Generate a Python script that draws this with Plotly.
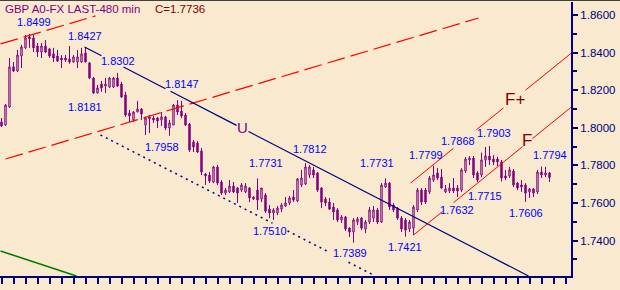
import plotly.graph_objects as go

# ---------------- data ----------------
bars = list(range(138))  # 480-min candle number

opens = [1.8031, 1.8015, 1.8111, 1.8324, 1.8302, 1.8382, 1.8425, 1.8483, 1.8478, 1.8435,
         1.8403, 1.8435, 1.8419, 1.8393, 1.8382, 1.8371, 1.8371, 1.8366, 1.8350, 1.8350,
         1.8350, 1.8398, 1.8345, 1.8265, 1.8185, 1.8233, 1.8222, 1.8217, 1.8217, 1.8265,
         1.8233, 1.8175, 1.8079, 1.8042, 1.8084, 1.8100, 1.8015, 1.8047, 1.8052, 1.8052,
         1.8042, 1.8058, 1.7999, 1.8015, 1.8121, 1.8089, 1.8068, 1.8020, 1.7925, 1.7919,
         1.7877, 1.7754, 1.7749, 1.7712, 1.7792, 1.7712, 1.7653, 1.7659, 1.7690, 1.7680,
         1.7669, 1.7659, 1.7680, 1.7621, 1.7669, 1.7621, 1.7643, 1.7568, 1.7547, 1.7547,
         1.7568, 1.7584, 1.7600, 1.7632, 1.7611, 1.7696, 1.7701, 1.7749, 1.7776, 1.7760,
         1.7680, 1.7621, 1.7605, 1.7579, 1.7563, 1.7510, 1.7526, 1.7467, 1.7446, 1.7499,
         1.7520, 1.7462, 1.7499, 1.7520, 1.7563, 1.7499, 1.7685, 1.7706, 1.7589, 1.7573,
         1.7520, 1.7510, 1.7462, 1.7467, 1.7563, 1.7669, 1.7669, 1.7659, 1.7722, 1.7760,
         1.7738, 1.7659, 1.7664, 1.7680, 1.7680, 1.7669, 1.7770, 1.7829, 1.7839, 1.7760,
         1.7749, 1.7829, 1.7850, 1.7834, 1.7834, 1.7818, 1.7744, 1.7744, 1.7770, 1.7706,
         1.7696, 1.7696, 1.7659, 1.7675, 1.7659, 1.7765, 1.7749, 1.7760]

highs = [1.8052, 1.8127, 1.8371, 1.8350, 1.8414, 1.8441, 1.8494, 1.8499, 1.8494, 1.8451,
         1.8451, 1.8467, 1.8425, 1.8425, 1.8414, 1.8387, 1.8387, 1.8435, 1.8387, 1.8414,
         1.8425, 1.8427, 1.8350, 1.8270, 1.8228, 1.8249, 1.8265, 1.8270, 1.8270, 1.8292,
         1.8244, 1.8191, 1.8095, 1.8089, 1.8143, 1.8105, 1.8058, 1.8068, 1.8063, 1.8058,
         1.8084, 1.8063, 1.8042, 1.8127, 1.8147, 1.8143, 1.8079, 1.8026, 1.7935, 1.7930,
         1.7893, 1.7760, 1.7765, 1.7797, 1.7802, 1.7722, 1.7680, 1.7722, 1.7712, 1.7685,
         1.7706, 1.7706, 1.7685, 1.7637, 1.7731, 1.7680, 1.7653, 1.7589, 1.7573, 1.7584,
         1.7600, 1.7632, 1.7637, 1.7669, 1.7733, 1.7776, 1.7812, 1.7802, 1.7792, 1.7765,
         1.7685, 1.7632, 1.7627, 1.7600, 1.7573, 1.7536, 1.7531, 1.7472, 1.7520, 1.7526,
         1.7526, 1.7510, 1.7579, 1.7584, 1.7573, 1.7706, 1.7731, 1.7712, 1.7600, 1.7579,
         1.7531, 1.7520, 1.7510, 1.7589, 1.7680, 1.7680, 1.7680, 1.7744, 1.7799, 1.7786,
         1.7781, 1.7696, 1.7706, 1.7733, 1.7696, 1.7786, 1.7845, 1.7850, 1.7850, 1.7770,
         1.7868, 1.7898, 1.7903, 1.7855, 1.7845, 1.7829, 1.7776, 1.7792, 1.7781, 1.7712,
         1.7722, 1.7706, 1.7680, 1.7680, 1.7776, 1.7794, 1.7792, 1.7765]

lows = [1.8004, 1.8010, 1.8105, 1.8297, 1.8297, 1.8318, 1.8419, 1.8425, 1.8403, 1.8377,
        1.8371, 1.8398, 1.8371, 1.8350, 1.8350, 1.8318, 1.8350, 1.8340, 1.8345, 1.8318,
        1.8345, 1.8350, 1.8260, 1.8181, 1.8183, 1.8191, 1.8185, 1.8212, 1.8212, 1.8217,
        1.8159, 1.8058, 1.8031, 1.8031, 1.8084, 1.8042, 1.7962, 1.7972, 1.8026, 1.7999,
        1.8010, 1.7988, 1.7958, 1.8015, 1.8068, 1.8052, 1.8010, 1.7871, 1.7871, 1.7866,
        1.7749, 1.7696, 1.7706, 1.7706, 1.7696, 1.7643, 1.7643, 1.7653, 1.7653, 1.7600,
        1.7659, 1.7653, 1.7605, 1.7616, 1.7563, 1.7605, 1.7547, 1.7520, 1.7510, 1.7536,
        1.7552, 1.7579, 1.7589, 1.7605, 1.7605, 1.7685, 1.7696, 1.7733, 1.7733, 1.7659,
        1.7573, 1.7584, 1.7563, 1.7510, 1.7499, 1.7494, 1.7451, 1.7419, 1.7389, 1.7483,
        1.7456, 1.7440, 1.7488, 1.7499, 1.7488, 1.7494, 1.7680, 1.7563, 1.7552, 1.7510,
        1.7446, 1.7421, 1.7446, 1.7430, 1.7552, 1.7589, 1.7595, 1.7648, 1.7712, 1.7722,
        1.7675, 1.7653, 1.7653, 1.7653, 1.7632, 1.7659, 1.7760, 1.7802, 1.7733, 1.7712,
        1.7738, 1.7792, 1.7802, 1.7802, 1.7797, 1.7715, 1.7722, 1.7733, 1.7685, 1.7669,
        1.7659, 1.7606, 1.7627, 1.7632, 1.7648, 1.7733, 1.7738, 1.7712]

closes = [1.8010, 1.8121, 1.8324, 1.8302, 1.8387, 1.8430, 1.8478, 1.8473, 1.8425, 1.8403,
          1.8435, 1.8403, 1.8382, 1.8371, 1.8355, 1.8361, 1.8361, 1.8350, 1.8377, 1.8377,
          1.8393, 1.8350, 1.8265, 1.8185, 1.8212, 1.8212, 1.8233, 1.8265, 1.8265, 1.8222,
          1.8164, 1.8068, 1.8063, 1.8084, 1.8100, 1.8073, 1.8052, 1.8058, 1.8042, 1.8036,
          1.8058, 1.7999, 1.8026, 1.8121, 1.8084, 1.8063, 1.8015, 1.7882, 1.7898, 1.7871,
          1.7765, 1.7744, 1.7717, 1.7792, 1.7706, 1.7653, 1.7669, 1.7690, 1.7659, 1.7653,
          1.7696, 1.7690, 1.7627, 1.7632, 1.7616, 1.7680, 1.7557, 1.7547, 1.7563, 1.7573,
          1.7589, 1.7600, 1.7627, 1.7616, 1.7728, 1.7733, 1.7792, 1.7792, 1.7749, 1.7669,
          1.7605, 1.7600, 1.7568, 1.7552, 1.7510, 1.7526, 1.7462, 1.7446, 1.7510, 1.7515,
          1.7467, 1.7499, 1.7563, 1.7563, 1.7499, 1.7696, 1.7706, 1.7579, 1.7563, 1.7520,
          1.7462, 1.7456, 1.7499, 1.7579, 1.7669, 1.7605, 1.7605, 1.7733, 1.7749, 1.7733,
          1.7680, 1.7675, 1.7680, 1.7664, 1.7664, 1.7776, 1.7834, 1.7839, 1.7749, 1.7722,
          1.7829, 1.7850, 1.7829, 1.7818, 1.7818, 1.7733, 1.7733, 1.7776, 1.7696, 1.7680,
          1.7685, 1.7653, 1.7675, 1.7653, 1.7765, 1.7749, 1.7760, 1.7736]

# price-axis levels
major_levels = [1.74, 1.76, 1.78, 1.80, 1.82, 1.84, 1.86]

# trend lines as (bar, price) vertices; None = break where a label interrupts the line
chan_up_x = [-0.25, 23.5]
chan_up_y = [1.8446, 1.8595]
chan_lo_x = [1.0, 119.25]
chan_lo_y = [1.7834, 1.8584]

u_x = [20.75, 25.0, None, 30.5, 41.0, None, 42.25, 58.75, None, 61.75, 131.75]
u_y = [1.8430, 1.8383, None, 1.8323, 1.8208, None, 1.8194, 1.8013, None, 1.7980, 1.7212]

dot_x = [24.75, 67.75, None, 71.5, 81.5, None, 86.75, 93.0]
dot_y = [1.7962, 1.7493, None, 1.7452, 1.7343, None, 1.7285, 1.7217]

f_x = [103.0, 110.25, None, 113.0, 130.25, None, 132.75, 142.5]
f_y = [1.7430, 1.7555, None, 1.7602, 1.7900, None, 1.7943, 1.8111]

fp_x = [102.25, 113.0, None, 118.75, 125.5, None, 131.0, 142.5]
fp_y = [1.7706, 1.7891, None, 1.7990, 1.8106, None, 1.8200, 1.8398]

green_x = [-0.25, 18.75]
green_y = [1.7345, 1.7212]

# swing-point labels: text, bar, price
price_labels = [
    ("1.8499", 8.0, 1.8563), ("1.8427", 20.75, 1.8488), ("1.8302", 29.0, 1.8355),
    ("1.8147", 45.0, 1.8233), ("1.8181", 20.75, 1.8111), ("1.7958", 40.0, 1.7898),
    ("1.7812", 77.0, 1.7887), ("1.7731", 66.0, 1.7813), ("1.7731", 93.75, 1.7813),
    ("1.7510", 67.0, 1.7451), ("1.7389", 87.0, 1.7334), ("1.7421", 100.75, 1.7366),
    ("1.7799", 106.0, 1.7855), ("1.7868", 114.0, 1.7930), ("1.7903", 123.0, 1.7972),
    ("1.7794", 137.0, 1.7855), ("1.7632", 113.75, 1.7563), ("1.7715", 120.75, 1.7637),
    ("1.7606", 131.0, 1.7547),
]
line_names = [("U", 60.25, 1.8004, "#800080", 15), ("F+", 128.25, 1.8153, "#800000", 17),
              ("F", 131.25, 1.7935, "#800000", 17)]

# ---------------- style ----------------
BG = "#F8E9CF"
PURPLE = "#800080"
NAVY = "#000080"
RED = "#FF0000"
DARKRED = "#800000"
BLUE = "#0000FF"
GREEN = "#008000"
FONT = "Liberation Sans, Arial, sans-serif"

fig = go.Figure()
fig.add_trace(go.Candlestick(
    x=bars, open=opens, high=highs, low=lows, close=closes,
    increasing=dict(line=dict(color=PURPLE, width=1), fillcolor=BG),
    decreasing=dict(line=dict(color=PURPLE, width=1), fillcolor=PURPLE),
    whiskerwidth=0, hoverinfo="skip", showlegend=False))

def add_line(xs, ys, color, width, dash="solid"):
    fig.add_trace(go.Scatter(x=xs, y=ys, mode="lines", connectgaps=False,
                             line=dict(color=color, width=width, dash=dash),
                             hoverinfo="skip", showlegend=False))

add_line(green_x, green_y, GREEN, 1.6)
add_line(chan_up_x, chan_up_y, RED, 1.2, "18px,6px")
add_line(chan_lo_x, chan_lo_y, RED, 1.2, "18px,6px")
add_line(u_x, u_y, NAVY, 1.2)
add_line(dot_x, dot_y, NAVY, 1.5, "2px,4px")
add_line(f_x, f_y, RED, 1.0)
add_line(fp_x, fp_y, RED, 1.0)

annotations = []
for txt, bx, py in price_labels:
    annotations.append(dict(x=bx, y=py, xref="x", yref="y", text=txt, showarrow=False,
                            xanchor="center", yanchor="middle",
                            font=dict(family=FONT, size=11, color=BLUE)))
for txt, bx, py, col, sz in line_names:
    annotations.append(dict(x=bx, y=py, xref="x", yref="y", text=txt, showarrow=False,
                            xanchor="center", yanchor="middle",
                            font=dict(family=FONT, size=sz, color=col)))

W, H = 620, 290
ML, MR, MT, MB = 0, 49, 2, 14
PW, PH = W - ML - MR, H - MT - MB

def px(xp):
    return (xp - ML) / PW

def py_(yp):
    return (H - MB - yp) / PH

annotations.append(dict(x=px(3), y=py_(9), xref="paper", yref="paper",
                        text="GBP A0-FX LAST-480 min", showarrow=False,
                        xanchor="left", yanchor="middle",
                        font=dict(family=FONT, size=11.5, color=PURPLE)))
annotations.append(dict(x=px(153), y=py_(9), xref="paper", yref="paper",
                        text="C=%.4f" % closes[-1], showarrow=False,
                        xanchor="left", yanchor="middle",
                        font=dict(family=FONT, size=11.5, color=DARKRED)))

fig.update_layout(
    width=W, height=H, margin=dict(l=ML, r=MR, t=MT, b=MB, pad=0),
    paper_bgcolor=BG, plot_bgcolor=BG, showlegend=False, boxgap=0.5,
    annotations=annotations,
    shapes=[dict(type="line", xref="paper", yref="paper", x0=0, x1=W / PW,
                 y0=py_(0.5), y1=py_(0.5), line=dict(color="#404040", width=1))],
    xaxis=dict(range=[-0.375, 142.375], rangeslider=dict(visible=False),
               showgrid=False, zeroline=False, showline=True, linecolor=NAVY, linewidth=2,
               ticks="outside", tick0=0, dtick=3, ticklen=6, tickwidth=1.5,
               tickcolor=NAVY, showticklabels=False, fixedrange=True),
    yaxis=dict(side="right", range=[1.7212, 1.8669], showgrid=False, zeroline=False,
               showline=True, linecolor=NAVY, linewidth=2,
               ticks="outside", tick0=major_levels[0], dtick=0.02, tickformat=".4f",
               ticklen=5, tickwidth=1.5, tickcolor=NAVY,
               tickfont=dict(family=FONT, size=11.5, color=NAVY),
               minor=dict(tick0=major_levels[0], dtick=0.01, ticks="outside", ticklen=4,
                          tickwidth=1.5, tickcolor=NAVY),
               fixedrange=True),
)

fig.write_html("out.html")
